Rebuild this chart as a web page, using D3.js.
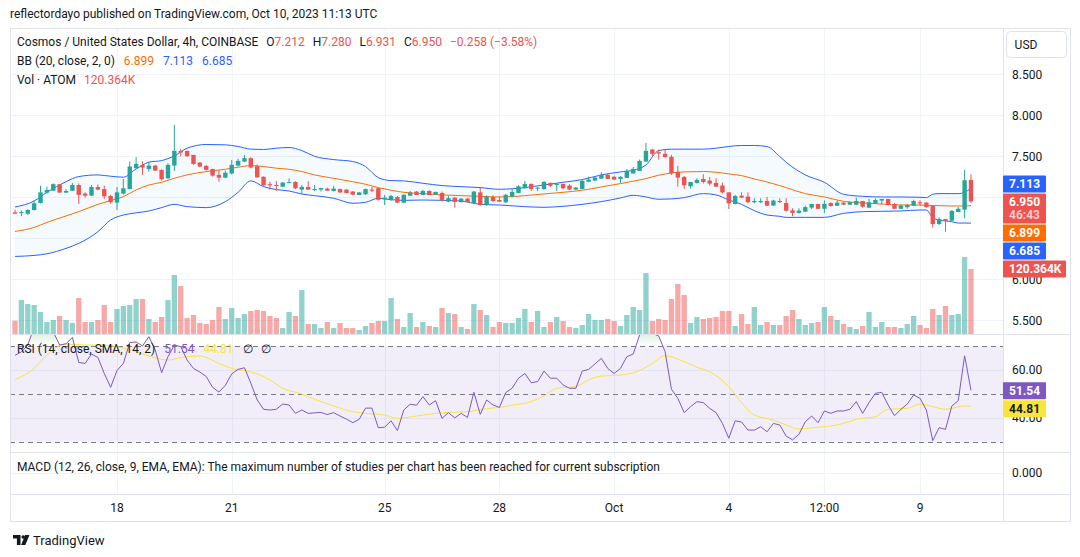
<!DOCTYPE html>
<html>
<head>
<meta charset="utf-8">
<script src="https://cdn.jsdelivr.net/npm/d3@7"></script>
<style>
  body { margin: 0; background: #fff; }
  text { font-family: Roboto, "Noto Sans", sans-serif; }
</style>
</head>
<body>
<div id="chart"></div>
<script>
// ATOM/USD 4h candles, Sep 15 08:00 -> Oct 10 08:00 (index 0..150)
var opens = [6.817,6.81,6.80,6.845,6.93,7.057,7.08,7.16,7.057,7.08,
  7.15,7.045,7.02,7.126,7.10,7.016,6.935,7.045,7.10,7.354,
  7.395,7.346,7.387,7.334,7.232,7.387,7.566,7.566,7.517,7.424,
  7.383,7.346,7.273,7.24,7.29,7.387,7.436,7.477,7.378,7.25,
  7.16,7.15,7.13,7.18,7.187,7.094,7.126,7.094,7.094,7.106,
  7.077,7.10,7.094,7.07,7.028,7.037,7.094,7.11,6.975,6.975,
  7.004,6.935,7.02,7.07,7.028,7.077,7.033,7.053,6.947,6.996,
  6.94,6.984,6.93,7.06,6.914,7.004,6.967,6.94,7.008,7.053,
  7.11,7.163,7.11,7.10,7.175,7.15,7.163,7.143,7.094,7.10,
  7.19,7.204,7.228,7.273,7.25,7.224,7.236,7.29,7.322,7.436,
  7.583,7.55,7.53,7.493,7.31,7.248,7.134,7.175,7.224,7.204,
  7.175,7.143,7.06,6.918,7.02,7.008,6.94,6.94,6.955,6.90,
  6.955,6.93,6.84,6.81,6.825,6.874,6.918,6.86,6.93,6.898,
  6.935,6.91,6.91,6.955,6.874,6.923,6.96,6.98,6.918,6.86,
  6.88,6.898,6.94,6.935,6.898,6.674,6.735,6.715,6.82,6.85,
  7.212]
var highs = [6.85,6.84,6.853,6.963,7.14,7.13,7.17,7.163,7.10,7.175,
  7.17,7.06,7.15,7.155,7.14,7.03,7.126,7.224,7.436,7.49,
  7.44,7.436,7.395,7.342,7.416,7.884,7.59,7.57,7.517,7.428,
  7.395,7.346,7.33,7.326,7.456,7.469,7.517,7.49,7.40,7.255,
  7.19,7.20,7.185,7.23,7.195,7.15,7.195,7.15,7.114,7.118,
  7.14,7.106,7.10,7.075,7.065,7.106,7.126,7.118,7.03,7.03,
  7.016,7.037,7.077,7.077,7.09,7.086,7.07,7.07,7.016,7.004,
  6.988,6.99,7.077,7.126,7.024,7.024,7.01,7.04,7.10,7.147,
  7.20,7.17,7.126,7.20,7.18,7.175,7.163,7.16,7.126,7.21,
  7.25,7.253,7.306,7.29,7.265,7.257,7.346,7.37,7.46,7.664,
  7.59,7.583,7.587,7.517,7.383,7.26,7.187,7.232,7.281,7.248,
  7.232,7.18,7.06,7.03,7.06,7.06,6.988,6.988,7.004,6.97,
  6.988,6.988,6.866,6.866,6.898,6.92,6.92,6.963,6.94,6.963,
  6.94,6.95,6.996,6.955,6.98,6.988,6.98,6.98,6.93,6.914,
  6.92,6.97,6.963,6.94,6.898,6.755,6.735,6.845,6.88,7.334,
  7.28]
var lows = [6.80,6.77,6.785,6.84,6.925,7.045,7.077,7.057,7.055,7.077,
  6.92,6.995,7.016,7.086,6.98,6.923,6.845,7.033,7.10,7.354,
  7.273,7.314,7.322,7.204,7.22,7.322,7.50,7.495,7.395,7.367,
  7.326,7.253,7.19,7.232,7.28,7.375,7.428,7.354,7.24,7.14,
  7.094,7.08,7.125,7.175,7.10,7.037,7.09,7.077,7.07,7.077,
  7.07,7.053,7.045,7.028,7.025,7.03,7.065,6.96,6.906,6.955,
  6.927,6.927,7.016,7.028,7.028,7.028,7.03,6.947,6.94,6.874,
  6.94,6.936,6.92,6.898,6.894,6.94,6.943,6.93,7.0,7.049,
  7.106,7.077,7.077,7.094,7.126,7.077,7.098,7.09,7.09,7.10,
  7.183,7.20,7.224,7.224,7.212,7.175,7.236,7.29,7.322,7.432,
  7.50,7.46,7.485,7.273,7.13,7.10,7.106,7.167,7.167,7.143,
  7.126,7.045,6.857,6.914,6.99,6.927,6.927,6.93,6.894,6.894,
  6.93,6.825,6.77,6.80,6.82,6.857,6.857,6.81,6.886,6.894,
  6.906,6.906,6.906,6.874,6.87,6.92,6.914,6.902,6.857,6.857,
  6.86,6.894,6.90,6.874,6.63,6.662,6.58,6.71,6.82,6.743,
  6.931]
var closes = [6.80,6.82,6.845,6.927,7.06,7.09,7.16,7.057,7.077,7.15,
  7.03,7.02,7.126,7.094,7.012,6.94,7.06,7.11,7.375,7.407,
  7.363,7.387,7.326,7.22,7.395,7.566,7.546,7.50,7.407,7.375,
  7.334,7.265,7.24,7.30,7.395,7.444,7.477,7.363,7.243,7.146,
  7.146,7.14,7.18,7.185,7.11,7.126,7.094,7.10,7.114,7.08,
  7.106,7.06,7.053,7.033,7.06,7.10,7.08,6.97,6.996,7.016,
  6.935,7.03,7.057,7.028,7.077,7.028,7.065,6.96,6.99,6.943,
  6.984,6.94,7.07,6.906,7.01,6.955,6.947,7.03,7.065,7.134,
  7.163,7.10,7.118,7.187,7.14,7.163,7.11,7.094,7.118,7.20,
  7.216,7.24,7.273,7.224,7.216,7.25,7.322,7.346,7.444,7.566,
  7.53,7.534,7.49,7.293,7.24,7.147,7.187,7.212,7.187,7.167,
  7.13,7.06,6.927,7.016,6.996,6.94,6.955,6.955,6.898,6.96,
  6.947,6.837,6.81,6.837,6.88,6.918,6.86,6.92,6.894,6.935,
  6.91,6.94,6.955,6.886,6.94,6.967,6.98,6.906,6.86,6.898,
  6.906,6.955,6.927,6.88,6.674,6.735,6.715,6.833,6.86,7.208,
  6.95]
// volume in thousands of ATOM
var volumes = [24.7,63,55.5,53.7,40.7,22.2,25.9,33.3,25.9,20.4,
  66.6,22.2,22.2,25.9,53.7,22.2,46.3,51.8,53.7,64.8,
  64.8,27.8,22.2,31.5,63,109.2,88.8,29.6,35.2,20.4,
  18.5,25.9,50,27.8,48.1,29.6,37,42.6,44.4,42.6,
  33.3,29.6,11.1,40.7,33.3,81.4,18.5,18.5,11.1,22.2,
  11.1,20.4,11.1,11.1,7.4,14.8,20.4,24.1,24.1,66.6,
  27.8,13,38.9,13,22.2,14.8,13,48.1,38.9,37,
  13,9.3,55.5,44.4,35.2,13,22.2,20.4,20.4,29.6,
  46.3,22.2,42.6,13,22.2,31.5,24.1,13,11.1,16.7,
  37,25.9,25.9,27.8,24.1,14.8,35.2,50,44.4,112.9,
  24.1,27.8,25.9,64.8,92.6,72.2,20.4,31.5,27.8,29.6,
  31.5,42.6,42.6,14.8,37,18.5,50,16.7,22.2,16.7,
  16.7,33.3,44.4,27.8,16.7,20.4,22.2,50,33.3,25.9,
  18.5,13,9.3,14.8,40.7,13,22.2,13,13,11.1,
  18.5,33.3,16.7,11.1,46.3,35.2,51.8,35.2,37,142.5,
  120.364]
var rsi = [66.2,67.6,70.5,78,82,80,76,70.5,71,73.7,
  63.2,62.8,66.7,65.3,58.6,52.8,59.8,62.8,71.5,71.8,
  70.1,74,68.4,58.9,65.6,70.5,69.8,64.2,60.7,59.2,
  57.3,52.8,50.8,53.6,58.4,60.3,61,54.5,47.5,43.6,
  43.3,43.6,45.8,45.4,41.9,43.3,41.9,42.1,42.3,41.4,
  42.2,40.8,39.5,38,39.4,44.1,44.1,35.9,36.1,38.8,
  34.7,43.3,45.7,45.3,48.9,45.4,47.2,39.8,42.2,40,
  41.9,40.2,50.7,41.5,47.5,45.4,44.4,50.6,52.4,56.6,
  58.6,54.7,55.2,59.6,56.6,56.6,53.8,52.4,52.4,59.6,
  60.3,62.6,64.9,60.7,58.6,60.7,65.6,66.7,74.7,80,
  75.4,74.3,67.7,52,48.2,42.2,44.7,46.8,46.4,44,
  42.2,37.7,31.5,38.8,38.3,34.9,34.9,36.3,34.2,37.7,
  37,32.4,30.8,33.1,38.4,40.8,38,42.9,41.9,42.9,
  42.9,43.6,46.8,41.9,46.4,50.3,50.7,45.4,40.9,43.6,
  45.8,49.6,48.2,43.3,30.5,35.9,35.2,45,47.2,66,
  51.54]

// Bollinger bands read at these candle indices
var bbIdx = [0,3,5,8,10,13,15,17,19,21, 23,25,27,30,33,35,37,39,41,43,
  45,47,50,53,55,57,59,61,64,67, 70,73,76,80,83,86,89,92,95,97,
  99,101,103,105,108,110,112,114,116,118, 120,121,124,127,130,133,136,139,142,143,
  144,145,147,148,149,150]
var bbUpper = [6.882,6.955,7.061,7.19,7.253,7.273,7.257,7.245,7.346,7.428,
  7.448,7.505,7.599,7.644,7.64,7.62,7.587,7.583,7.599,7.607,
  7.57,7.50,7.46,7.436,7.375,7.24,7.204,7.20,7.171,7.143,
  7.13,7.118,7.098,7.118,7.151,7.183,7.216,7.273,7.31,7.33,
  7.395,7.57,7.587,7.587,7.587,7.599,7.62,7.632,7.632,7.619,
  7.497,7.428,7.273,7.183,7.037,7.012,7.004,7.004,7.0,6.996,
  7.037,7.045,7.045,7.045,7.06,7.113]
var bbMid = [6.584,6.633,6.694,6.772,6.825,6.914,6.96,7.008,7.09,7.15,
  7.183,7.232,7.273,7.314,7.342,7.367,7.387,7.375,7.355,7.342,
  7.314,7.273,7.232,7.19,7.159,7.118,7.086,7.061,7.045,7.029,
  7.02,7.012,7.004,7.02,7.041,7.061,7.086,7.126,7.167,7.196,
  7.228,7.269,7.297,7.31,7.314,7.306,7.285,7.265,7.224,7.187,
  7.143,7.118,7.045,7.004,6.951,6.931,6.918,6.906,6.906,6.902,
  6.90,6.898,6.894,6.894,6.894,6.899]
var bbLower = [6.279,6.291,6.311,6.377,6.438,6.58,6.723,6.784,6.81,6.833,
  6.874,6.914,6.886,6.874,6.947,7.061,7.2,7.13,7.094,7.077,
  7.04,7.02,6.988,6.927,6.939,6.988,6.971,6.963,6.967,6.963,
  6.955,6.914,6.906,6.886,6.878,6.89,6.914,6.947,6.992,7.024,
  7.004,6.976,6.98,6.996,7.045,7.029,6.967,6.914,6.837,6.784,
  6.768,6.755,6.755,6.755,6.804,6.825,6.829,6.833,6.845,6.845,
  6.751,6.723,6.702,6.686,6.686,6.685]

// RSI-based MA read at these candle indices
var rsiMaIdx = [0,3,5,8,11,13,16,19,21,24, 26,29,32,34,37,40,42,45,47,50,
  53,55,58,60,63,66,68,71,74,76, 78,81,83,85,88,90,92,95,98,100,
  102,105,107,109,112,114,116,119,121,123, 126,128,130,132,135,137,140,142,144,146,
  149,150]
var rsiMa = [56,60.7,66.3,70.9,70.5,70.5,69.8,67.7,65.9,64.2,
  65.2,65.9,62.8,60.7,59.3,55.9,52.4,50,47.8,45,
  42.6,41.9,41.2,39.8,40.8,41.9,42.3,42.6,43.9,44.4,
  45.3,46.8,49.2,52.4,53.1,55.9,57.5,57.9,59.8,62.8,
  66,63.5,61.2,59.3,53.1,46.4,41.2,39.1,37,35.4,
  36.1,36.6,37.7,39.4,40.5,43.6,44,45.8,44.7,43.6,
  45,44.81]

var timeTickIdx = [16,34,58,76,94,112,127,142]
var timeTickLabels = ["18","21","25","28","Oct","4","12:00","9"]
var priceTicks = [5.5,6,6.5,7,7.5,8,8.5]
var rsiTicks = [40,60]
var rsiBands = [30,50,70]

var up = "#26a69a", down = "#ef5350", dark = "#131722"

var width = 1080, height = 557
var plotL = 10, plotR = 1003, frameR = 1070
var frameTop = 28, priceBot = 334, rsiBot = 452, macdBot = 494, frameBot = 521

var svg = d3.select("#chart").append("svg")
    .attr("width", width)
    .attr("height", height)

// scales
var x = d3.scaleLinear().domain([16, 142]).range([117, 920])
var y = d3.scaleLinear().domain([5.5, 8.5]).range([320.3, 74.3])
var yVol = d3.scaleLinear().domain([0, d3.max(volumes)]).range([priceBot, priceBot - 77])
var yRsi = d3.scaleLinear().domain([30, 70]).range([441.8, 346.2])

var defs = svg.append("defs")
defs.append("clipPath").attr("id", "clipPrice").append("rect")
  .attr("x", plotL).attr("y", frameTop).attr("width", plotR - plotL).attr("height", priceBot - frameTop)
defs.append("clipPath").attr("id", "clipRsi").append("rect")
  .attr("x", plotL).attr("y", priceBot).attr("width", plotR - plotL).attr("height", rsiBot - priceBot)
defs.append("clipPath").attr("id", "clipOb").append("rect")
  .attr("x", plotL).attr("y", priceBot).attr("width", plotR - plotL).attr("height", yRsi(70) - priceBot)
var grad = defs.append("linearGradient").attr("id", "obGrad")
  .attr("gradientUnits", "userSpaceOnUse")
  .attr("x1", 0).attr("x2", 0).attr("y1", yRsi(100)).attr("y2", yRsi(70))
grad.append("stop").attr("offset", 0).attr("stop-color", "#4caf50").attr("stop-opacity", 1)
grad.append("stop").attr("offset", 1).attr("stop-color", "#4caf50").attr("stop-opacity", 0)

// title
svg.append("text").attr("x", 10).attr("y", 14).attr("dy", "0.35em")
  .attr("font-size", 12).attr("fill", dark)
  .text("reflectordayo published on TradingView.com, Oct 10, 2023 11:13 UTC")

// grid
var grid = svg.append("g").attr("stroke", "#f0f3fa").attr("stroke-width", 1)
grid.selectAll(".vg").data(timeTickIdx).enter().append("line")
  .attr("x1", d => Math.round(x(d)) + 0.5).attr("x2", d => Math.round(x(d)) + 0.5)
  .attr("y1", frameTop).attr("y2", macdBot)
grid.selectAll(".hg").data(priceTicks).enter().append("line")
  .attr("x1", plotL).attr("x2", plotR)
  .attr("y1", d => Math.round(y(d)) + 0.5).attr("y2", d => Math.round(y(d)) + 0.5)
grid.selectAll(".rg").data(rsiTicks).enter().append("line")
  .attr("x1", plotL).attr("x2", plotR)
  .attr("y1", d => Math.round(yRsi(d)) + 0.5).attr("y2", d => Math.round(yRsi(d)) + 0.5)
grid.append("line").attr("x1", plotL).attr("x2", plotR).attr("y1", 473.5).attr("y2", 473.5)

// price pane
var pane = svg.append("g").attr("clip-path", "url(#clipPrice)")
var idx = d3.range(opens.length)

pane.selectAll(".vol").data(idx).enter().append("rect")
  .attr("x", i => x(i) - 2.65)
  .attr("width", 5.3)
  .attr("y", i => yVol(volumes[i]))
  .attr("height", i => yVol(0) - yVol(volumes[i]))
  .attr("fill", i => closes[i] >= opens[i] ? up : down)
  .attr("fill-opacity", 0.5)

var bb = bbIdx.map((d, k) => ({ i: d, u: bbUpper[k], m: bbMid[k], l: bbLower[k] }))
pane.append("path").datum(bb)
  .attr("d", d3.area().x(d => x(d.i)).y0(d => y(d.l)).y1(d => y(d.u)).curve(d3.curveMonotoneX))
  .attr("fill", "rgba(33,150,243,0.05)")
function bbLine(key, color) {
  pane.append("path").datum(bb)
    .attr("d", d3.line().x(d => x(d.i)).y(d => y(d[key])).curve(d3.curveMonotoneX))
    .attr("fill", "none").attr("stroke", color).attr("stroke-width", 1)
}
bbLine("u", "#2962ff")
bbLine("l", "#2962ff")
bbLine("m", "#ff6d00")

pane.selectAll(".wick").data(idx).enter().append("line")
  .attr("x1", i => x(i)).attr("x2", i => x(i))
  .attr("y1", i => y(highs[i])).attr("y2", i => y(lows[i]))
  .attr("stroke", i => closes[i] >= opens[i] ? up : down)
  .attr("stroke-width", 1)
pane.selectAll(".body").data(idx).enter().append("rect")
  .attr("x", i => x(i) - 2.2)
  .attr("width", 4.4)
  .attr("y", i => y(Math.max(opens[i], closes[i])))
  .attr("height", i => Math.max(1, Math.abs(y(opens[i]) - y(closes[i]))))
  .attr("fill", i => closes[i] >= opens[i] ? up : down)

// RSI pane
var rp = svg.append("g").attr("clip-path", "url(#clipRsi)")
rp.append("rect").attr("x", plotL).attr("width", plotR - plotL)
  .attr("y", yRsi(70)).attr("height", yRsi(30) - yRsi(70))
  .attr("fill", "rgba(126,87,194,0.1)")
rp.selectAll(".band").data(rsiBands).enter().append("line")
  .attr("x1", plotL).attr("x2", plotR)
  .attr("y1", d => Math.round(yRsi(d)) + 0.5).attr("y2", d => Math.round(yRsi(d)) + 0.5)
  .attr("stroke", "#787b86").attr("stroke-dasharray", "5,4")
rp.append("path").datum(idx)
  .attr("clip-path", "url(#clipOb)")
  .attr("d", d3.area().x(i => x(i)).y0(yRsi(70)).y1(i => yRsi(rsi[i])))
  .attr("fill", "url(#obGrad)")
var maPts = rsiMaIdx.map((d, k) => [d, rsiMa[k]])
rp.append("path").datum(maPts)
  .attr("d", d3.line().x(d => x(d[0])).y(d => yRsi(d[1])).curve(d3.curveMonotoneX))
  .attr("fill", "none").attr("stroke", "#f7e53b").attr("stroke-width", 1)
rp.append("path").datum(idx)
  .attr("d", d3.line().x(i => x(i)).y(i => yRsi(rsi[i])))
  .attr("fill", "none").attr("stroke", "#7e57c2").attr("stroke-width", 1)

// frame and separators
var fr = svg.append("g").attr("stroke", "#e0e3eb").attr("fill", "none")
fr.append("rect").attr("x", plotL + 0.5).attr("y", frameTop + 0.5)
  .attr("width", frameR - plotL).attr("height", frameBot - frameTop)
fr.append("line").attr("x1", plotR + 0.5).attr("x2", plotR + 0.5).attr("y1", frameTop).attr("y2", frameBot)
;[priceBot, rsiBot, macdBot].forEach(function(v) {
  fr.append("line").attr("x1", plotL).attr("x2", frameR).attr("y1", v + 0.5).attr("y2", v + 0.5)
})

// time axis
svg.selectAll(".tt").data(timeTickIdx).enter().append("text")
  .attr("x", d => x(d)).attr("y", 508).attr("dy", "0.35em")
  .attr("text-anchor", "middle").attr("font-size", 12).attr("fill", dark)
  .text((d, k) => timeTickLabels[k])

// right-hand labels, pushed down so they do not overlap
var last = opens.length - 1
var priceLabels = [
  { c: y(bbUpper[bbUpper.length - 1]), text: bbUpper[bbUpper.length - 1].toFixed(3), fill: "#2962ff", h: 17 },
  { c: y(closes[last]), text: closes[last].toFixed(3), sub: "46:43", fill: down, h: 30 },
  { c: y(bbMid[bbMid.length - 1]), text: bbMid[bbMid.length - 1].toFixed(3), fill: "#ff6d00", h: 17 },
  { c: y(bbLower[bbLower.length - 1]), text: bbLower[bbLower.length - 1].toFixed(3), fill: "#2962ff", h: 17 },
  { c: yVol(volumes[last]), text: volumes[last].toFixed(3) + "K", fill: down, h: 17, w: 63 }
].sort((a, b) => a.c - b.c)
var prevBottom = -Infinity
priceLabels.forEach(function(d, k) {
  var top = d.c - 8.5 - (k === 0 ? 4 : 0)
  d.top = Math.max(top, prevBottom + 1)
  prevBottom = d.top + d.h
})

var ax = svg.append("g")
ax.selectAll(".pt").data(priceTicks.filter(function(v) {
    return !priceLabels.some(d => y(v) >= d.top && y(v) <= d.top + d.h)
  })).enter().append("text")
  .attr("x", 1012).attr("y", d => y(d)).attr("dy", "0.35em")
  .attr("font-size", 12).attr("fill", dark)
  .text(d => d.toFixed(3))
ax.selectAll(".rt").data(rsiTicks).enter().append("text")
  .attr("x", 1012).attr("y", d => yRsi(d)).attr("dy", "0.35em")
  .attr("font-size", 12).attr("fill", dark)
  .text(d => d.toFixed(2))
ax.append("text").attr("x", 1012).attr("y", 473).attr("dy", "0.35em")
  .attr("font-size", 12).attr("fill", dark).text("0.000")

priceLabels.forEach(function(d) {
  ax.append("rect").attr("x", plotR).attr("y", d.top).attr("width", d.w || 43).attr("height", d.h)
    .attr("rx", 1).attr("fill", d.fill)
  ax.append("text").attr("x", 1009).attr("y", d.top + 8.5).attr("dy", "0.35em")
    .attr("font-size", 12).attr("font-weight", "bold").attr("fill", "#fff").text(d.text)
  if (d.sub) {
    ax.append("text").attr("x", 1009).attr("y", d.top + 21.5).attr("dy", "0.35em")
      .attr("font-size", 12).attr("font-weight", "bold").attr("fill", "#fff").attr("fill-opacity", 0.7)
      .text(d.sub)
  }
})

var rsiLabels = [
  { c: yRsi(rsi[last]), text: rsi[last].toFixed(2), fill: "#7e57c2", tc: "#fff" },
  { c: yRsi(rsiMa[rsiMa.length - 1]), text: rsiMa[rsiMa.length - 1].toFixed(2), fill: "#f7e53b", tc: dark }
].sort((a, b) => a.c - b.c)
prevBottom = -Infinity
rsiLabels.forEach(function(d, k) {
  d.top = Math.max(d.c - 8.5 + (k === 0 ? 0.5 : 0), prevBottom + 1)
  prevBottom = d.top + 17
  ax.append("rect").attr("x", plotR).attr("y", d.top).attr("width", 43).attr("height", 17)
    .attr("rx", 1).attr("fill", d.fill)
  ax.append("text").attr("x", 1009).attr("y", d.top + 8.5).attr("dy", "0.35em")
    .attr("font-size", 12).attr("font-weight", "bold").attr("fill", d.tc).text(d.text)
})

// USD button
ax.append("rect").attr("x", 1006.5).attr("y", 31.5).attr("width", 60).attr("height", 26).attr("rx", 4)
  .attr("fill", "#fff").attr("stroke", "#e0e3eb")
ax.append("text").attr("x", 1026).attr("y", 44.5).attr("dy", "0.35em").attr("text-anchor", "middle")
  .attr("font-size", 12).attr("fill", dark).text("USD")

// legends
function legendRow(yy, parts) {
  var cx = 17
  parts.forEach(function(p) {
    cx += p.gap || 0
    var t = svg.append("text").attr("x", cx).attr("y", yy).attr("dy", "0.35em")
      .attr("font-size", 12).attr("fill", p.c || dark).text(p.t)
    cx += t.node().getComputedTextLength()
  })
}
var chg = closes[last] - closes[last - 1]
var minus = s => s.replace("-", "\u2212")
legendRow(42, [
  { t: "Cosmos / United States Dollar, 4h, COINBASE" },
  { t: "O", gap: 8 }, { t: opens[last].toFixed(3), c: down },
  { t: "H", gap: 8 }, { t: highs[last].toFixed(3), c: down },
  { t: "L", gap: 8 }, { t: lows[last].toFixed(3), c: down },
  { t: "C", gap: 8 }, { t: closes[last].toFixed(3), c: down },
  { t: minus(chg.toFixed(3)) + " (" + minus((chg / closes[last - 1] * 100).toFixed(2)) + "%)", c: down, gap: 8 }
])
legendRow(61, [
  { t: "BB (20, close, 2, 0)" },
  { t: bbMid[bbMid.length - 1].toFixed(3), c: "#ff6d00", gap: 9 },
  { t: bbUpper[bbUpper.length - 1].toFixed(3), c: "#2962ff", gap: 9 },
  { t: bbLower[bbLower.length - 1].toFixed(3), c: "#2962ff", gap: 9 }
])
legendRow(80, [
  { t: "Vol \u00b7 ATOM" },
  { t: volumes[last].toFixed(3) + "K", c: down, gap: 8 }
])
legendRow(349, [
  { t: "RSI (14, close, SMA, 14, 2)" },
  { t: rsi[last].toFixed(2), c: "#7e57c2", gap: 9 },
  { t: rsiMa[rsiMa.length - 1].toFixed(2), c: "#f7e53b", gap: 9 },
  { t: "\u2205", gap: 9 },
  { t: "\u2205", gap: 8 }
])
legendRow(467, [
  { t: "MACD (12, 26, close, 9, EMA, EMA): The maximum number of studies per chart has been reached for current subscription" }
])

// footer logo
var logo = svg.append("g").attr("fill", dark)
logo.append("path").attr("d", "M13 535h7.5v10h-3.6v-6.6h-3.9z")
logo.append("circle").attr("cx", 23.2).attr("cy", 537).attr("r", 1.8)
logo.append("path").attr("d", "M25.2 535h4.3l-4.2 10h-4.2z")
svg.append("text").attr("x", 33).attr("y", 540).attr("dy", "0.35em")
  .attr("font-size", 13).attr("fill", dark).text("TradingView")
</script>
</body>
</html>
